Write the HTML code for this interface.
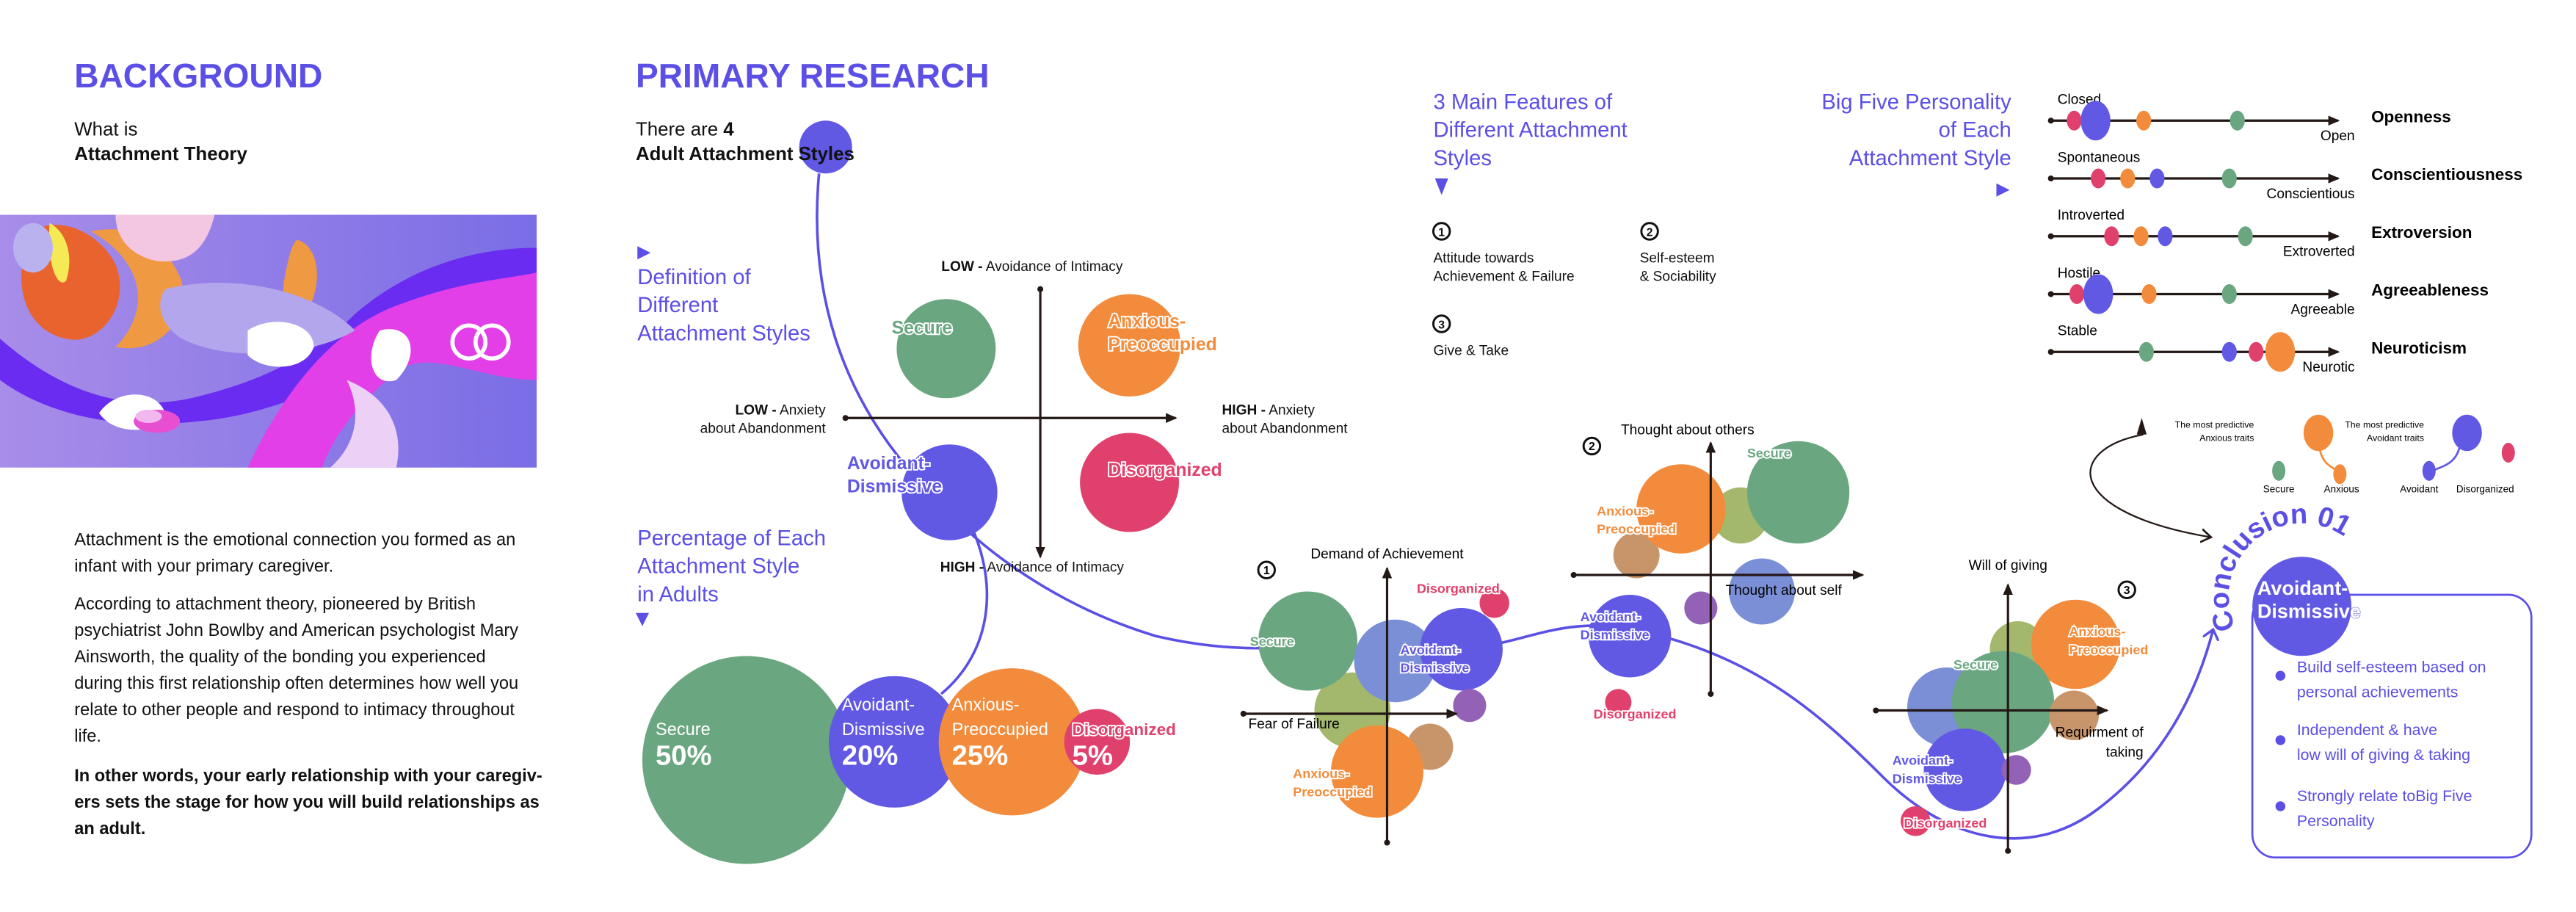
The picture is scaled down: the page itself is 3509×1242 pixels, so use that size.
<!DOCTYPE html>
<html><head><meta charset="utf-8"><style>
html,body{margin:0;padding:0;background:#fff;}
svg{display:block;}
text{font-family:"Liberation Sans",sans-serif;}
.h{font-weight:bold;fill:#5b4fe6;font-size:20.5px;}
.sub{font-size:11.5px;fill:#111;}
.pur{fill:#5b4fe6;font-size:13px;}
.body{font-size:10.5px;fill:#111;}
.ax{stroke:#231816;stroke-width:1.4;fill:none;}
.lab{font-size:8.5px;fill:#111;}
.ol{paint-order:stroke;stroke:#fff;stroke-width:1.6px;font-weight:bold;font-size:8px;}
</style></head><body>
<svg id="root" width="3509" height="1242" viewBox="0 0 1560 552" preserveAspectRatio="none">
<defs>
<linearGradient id="bg" x1="0" x2="1" y1="0" y2="0"><stop offset="0" stop-color="#a88de9"/><stop offset="1" stop-color="#7a6de6"/></linearGradient>
<marker id="arr" markerWidth="8" markerHeight="8" refX="6" refY="4" orient="auto" markerUnits="userSpaceOnUse"><path d="M0,1 L7,4 L0,7 z" fill="#231816"/></marker>
<marker id="arrP" markerWidth="10" markerHeight="10" refX="5" refY="5" orient="auto" markerUnits="userSpaceOnUse"><path d="M0,0 L6,5 L0,10" fill="none" stroke="#5b4fe6" stroke-width="1.5"/></marker>
<marker id="arrK" markerWidth="10" markerHeight="10" refX="5" refY="5" orient="auto" markerUnits="userSpaceOnUse"><path d="M0,1 L6,5 L0,9" fill="none" stroke="#231816" stroke-width="1.2"/></marker>
</defs>

<text x="45" y="53" class="h">BACKGROUND</text>
<text x="45" y="82" class="sub">What is</text>
<text x="45" y="97" class="sub" font-weight="bold">Attachment Theory</text>
<g>
<rect x="0" y="130" width="325" height="153" fill="url(#bg)"/>
<path d="M0,205 C40,240 80,250 120,240 C160,230 190,215 215,190 C250,160 290,150 325,150 L325,230 C300,225 280,200 260,205 C230,215 180,250 120,255 C60,262 20,245 0,230 Z" fill="#6a2cf0"/>
<path d="M150,283 C170,240 200,200 240,185 C280,170 300,170 325,165 L325,230 C290,230 260,210 240,225 C210,250 200,270 195,283 Z" fill="#e23fe8"/>
<path d="M20,140 C35,130 60,140 70,160 C80,185 60,210 40,205 C15,200 5,170 20,140 Z" fill="#e8632e"/>
<path d="M55,140 C80,135 100,145 110,170 C115,195 95,215 70,210 C90,190 90,160 55,140 Z" fill="#ef9a42"/>
<path d="M30,135 C40,140 45,155 40,170 C35,175 28,160 30,135 Z" fill="#f5e956"/>
<path d="M70,130 L130,130 C125,150 115,160 95,158 C80,155 70,145 70,130 Z" fill="#f3c6e2"/>
<path d="M180,145 C195,150 195,175 185,190 C175,200 170,185 172,170 C174,160 176,148 180,145 Z" fill="#ef9a42"/>
<path d="M100,175 C140,165 190,175 215,200 C190,215 140,220 110,205 C95,195 95,182 100,175 Z" fill="#b3a6ec"/>
<ellipse cx="20" cy="150" rx="12" ry="15" fill="#b9b2ef"/>
<path d="M150,200 C165,190 190,195 190,210 C185,225 160,225 150,215 Z" fill="#fff"/>
<path d="M60,250 C70,235 95,235 100,250 C98,262 70,265 60,250 Z" fill="#fff"/>
<path d="M210,230 C220,250 215,270 200,283 L240,283 C245,260 235,240 210,230 Z" fill="#ecd0f5"/>
<path d="M230,200 C250,195 255,215 240,230 C225,235 220,215 230,200 Z" fill="#fff"/>
<ellipse cx="95" cy="255" rx="14" ry="7" fill="#e84fd0"/>
<ellipse cx="90" cy="252" rx="8" ry="4" fill="#f0b8ee"/>
<circle cx="284" cy="207" r="10" fill="none" stroke="#fff" stroke-width="2.5"/>
<circle cx="298" cy="207" r="10" fill="none" stroke="#fff" stroke-width="2.5"/>
</g>
<g>
<text x="45" y="330" class="body">Attachment is the emotional connection you formed as an</text>
<text x="45" y="346" class="body">infant with your primary caregiver.</text>
<text x="45" y="369" class="body">According to attachment theory, pioneered by British</text>
<text x="45" y="385" class="body">psychiatrist John Bowlby and American psychologist Mary</text>
<text x="45" y="401" class="body">Ainsworth, the quality of the bonding you experienced</text>
<text x="45" y="417" class="body">during this first relationship often determines how well you</text>
<text x="45" y="433" class="body">relate to other people and respond to intimacy throughout</text>
<text x="45" y="449" class="body">life.</text>
<text x="45" y="473" class="body" font-weight="bold">In other words, your early relationship with your caregiv-</text>
<text x="45" y="489" class="body" font-weight="bold">ers sets the stage for how you will build relationships as</text>
<text x="45" y="505" class="body" font-weight="bold">an adult.</text>
</g>

<text x="385" y="53" class="h">PRIMARY RESEARCH</text>
<text x="385" y="82" class="sub">There are <tspan font-weight="bold">4</tspan></text>

<g fill="none" stroke="#5b4fe6" stroke-width="1.6">
<path d="M496,105 C490,170 505,240 565,300 C600,340 650,370 700,385 C730,392 755,393 775,392"/>
<path d="M588,318 C605,355 600,395 570,420"/>
<path d="M905,390 C930,385 950,375 985,380 C1060,395 1100,430 1140,470 C1180,510 1230,520 1270,490 C1310,460 1330,420 1340,382" marker-end="url(#arrP)"/>
</g>
<circle cx="500" cy="89" r="16" fill="#6158e3"/>
<text x="385" y="97" class="sub" font-weight="bold">Adult Attachment Styles</text>

<path d="M386,149 L394,153 L386,157 Z" fill="#5b4fe6"/>
<g>
<text x="386" y="172" class="pur">Definition of</text>
<text x="386" y="189" class="pur">Different</text>
<text x="386" y="206" class="pur">Attachment Styles</text></g>

<g>
<line x1="630" y1="175" x2="630" y2="337" class="ax" marker-end="url(#arr)"/>
<circle cx="630" cy="175" r="1.8" fill="#231816"/>
<line x1="512" y1="253" x2="712" y2="253" class="ax" marker-end="url(#arr)"/>
<circle cx="512" cy="253" r="1.8" fill="#231816"/>
<text x="625" y="164" class="lab" text-anchor="middle"><tspan font-weight="bold">LOW -</tspan> Avoidance of Intimacy</text>
<text x="625" y="346" class="lab" text-anchor="middle"><tspan font-weight="bold">HIGH -</tspan> Avoidance of Intimacy</text>
<text x="500" y="251" class="lab" text-anchor="end"><tspan font-weight="bold">LOW -</tspan> Anxiety</text>
<text x="500" y="262" class="lab" text-anchor="end">about Abandonment</text>
<text x="740" y="251" class="lab"><tspan font-weight="bold">HIGH -</tspan> Anxiety</text>
<text x="740" y="262" class="lab">about Abandonment</text>
<circle cx="573" cy="211" r="30" fill="#6aa781"/>
<circle cx="684" cy="209" r="31" fill="#f28c3c"/>
<circle cx="575" cy="298" r="29" fill="#6158e3"/>
<circle cx="684" cy="292" r="30" fill="#e0416c"/>
<text x="540" y="202" class="ol" fill="#6aa781" style="font-size:11px">Secure</text>
<text x="671" y="198" class="ol" fill="#f28c3c" style="font-size:11px">Anxious-</text>
<text x="671" y="212" class="ol" fill="#f28c3c" style="font-size:11px">Preoccupied</text>
<text x="513" y="284" class="ol" fill="#6158e3" style="font-size:11px">Avoidant-</text>
<text x="513" y="298" class="ol" fill="#6158e3" style="font-size:11px">Dismissive</text>
<text x="671" y="288" class="ol" fill="#e0416c" style="font-size:11px">Disorganized</text>
</g>

<g>
<text x="386" y="330" class="pur">Percentage of Each</text>
<text x="386" y="347" class="pur">Attachment Style</text>
<text x="386" y="364" class="pur">in Adults</text>
<path d="M385,371 L393,371 L389,379 Z" fill="#5b4fe6"/></g>
<g id="pct"></g>

<g>
<text x="868" y="66" class="pur">3 Main Features of</text>
<text x="868" y="83" class="pur">Different Attachment</text>
<text x="868" y="100" class="pur">Styles</text>
<path d="M869,108 L877,108 L873,118 Z" fill="#5b4fe6"/></g>
<g class="lab">
<circle cx="873" cy="140" r="5" fill="none" stroke="#111" stroke-width="1.3"/><text x="873" y="143" font-size="7" text-anchor="middle" font-weight="bold">1</text>
<text x="868" y="159">Attitude towards</text><text x="868" y="170">Achievement &amp; Failure</text>
<circle cx="999" cy="140" r="5" fill="none" stroke="#111" stroke-width="1.3"/><text x="999" y="143" font-size="7" text-anchor="middle" font-weight="bold">2</text>
<text x="993" y="159">Self-esteem</text><text x="993" y="170">&amp; Sociability</text>
<circle cx="873" cy="196" r="5" fill="none" stroke="#111" stroke-width="1.3"/><text x="873" y="199" font-size="7" text-anchor="middle" font-weight="bold">3</text>
<text x="868" y="215">Give &amp; Take</text>
</g>
<g>
<text x="1218" y="66" class="pur" text-anchor="end">Big Five Personality</text>
<text x="1218" y="83" class="pur" text-anchor="end">of Each</text>
<text x="1218" y="100" class="pur" text-anchor="end">Attachment Style</text>
<path d="M1209,111 L1217,115 L1209,119 Z" fill="#5b4fe6"/></g>
<g id="bigfive"></g>

<g id="f1"></g>
<g id="f2"></g>
<g id="f3"></g>

<g>
<path d="M1298,263 C1250,272 1250,310 1338,325" fill="none" stroke="#231816" stroke-width="1" marker-end="url(#arrK)"/>
<path d="M1294,263 L1297,253 L1300,263 Z" fill="#231816"/>
<text x="1365" y="259" font-size="5.5" text-anchor="end">The most predictive</text>
<text x="1365" y="267" font-size="5.5" text-anchor="end">Anxious traits</text>
<path d="M1404,268 C1406,282 1412,282 1417,286" stroke="#f28c3c" fill="none" stroke-width="1.2"/>
<ellipse cx="1404" cy="262" rx="9" ry="11" fill="#f28c3c"/>
<ellipse cx="1417" cy="287" rx="4" ry="6" fill="#f28c3c"/>
<text x="1468" y="259" font-size="5.5" text-anchor="end">The most predictive</text>
<text x="1468" y="267" font-size="5.5" text-anchor="end">Avoidant traits</text>
<path d="M1490,268 C1488,282 1478,282 1471,286" stroke="#6158e3" fill="none" stroke-width="1.2"/>
<ellipse cx="1494" cy="262" rx="9" ry="11" fill="#6158e3"/>
<ellipse cx="1471" cy="285" rx="4" ry="6" fill="#6158e3"/>
<ellipse cx="1380" cy="285" rx="4" ry="6" fill="#6aa781"/>
<ellipse cx="1519" cy="274" rx="4" ry="6" fill="#e0416c"/>
<text x="1380" y="298" font-size="6" text-anchor="middle">Secure</text>
<text x="1418" y="298" font-size="6" text-anchor="middle">Anxious</text>
<text x="1465" y="298" font-size="6" text-anchor="middle">Avoidant</text>
<text x="1505" y="298" font-size="6" text-anchor="middle">Disorganized</text>
</g>

<g>
<rect x="1364" y="360" width="169" height="159" rx="14" fill="none" stroke="#5b4fe6" stroke-width="1.2"/>
<path id="carc" d="M1354,380 A44,44 0 0 1 1434,342" fill="none"/>
<text font-size="17" font-weight="bold" fill="#5b4fe6"><textPath href="#carc">Conclusion 01</textPath></text>
<circle cx="1394" cy="367" r="30" fill="#6158e3"/>
<text x="1367" y="360" class="ol" fill="#fff" style="font-size:12px;stroke:#6158e3;stroke-width:0.5px">Avoidant-</text>
<text x="1367" y="374" class="ol" fill="#fff" style="font-size:12px;stroke:#6158e3;stroke-width:0.5px">Dismissive</text>
<g fill="#5b4fe6" font-size="9.5">
<circle cx="1381" cy="409" r="3"/><text x="1391" y="407">Build self-esteem based on</text><text x="1391" y="422">personal achievements</text>
<circle cx="1381" cy="448" r="3"/><text x="1391" y="445">Independent &amp; have</text><text x="1391" y="460">low will of giving &amp; taking</text>
<circle cx="1381" cy="488" r="3"/><text x="1391" y="485">Strongly relate toBig Five</text><text x="1391" y="500">Personality</text>
</g></g>
</svg>
<script>
var NS='http://www.w3.org/2000/svg';
var styles=['Secure','Avoidant-Dismissive','Anxious-Preoccupied','Disorganized'];
var pctValues=[50,20,25,5];
var pctLabels=['50%','20%','25%','5%'];
var colors={sec:'#6aa781',av:'#6158e3',anx:'#f28c3c',dis:'#e0416c',olive:'#a3b86c',blue:'#7b8fd6',tan:'#c8956a',vio:'#9361b6'};
function mk(tag,attrs,parent){var e=document.createElementNS(NS,tag);for(var k in attrs)e.setAttribute(k,attrs[k]);parent.appendChild(e);return e;}
(function(){
 var g=document.getElementById('pct');var pc=[colors.sec,colors.av,colors.anx,colors.dis];
 function rScale(v){return 8.9*Math.sqrt(v);}
 var x=389,prevR=0;
 for(var i=0;i<pctValues.length;i++){
  var r=rScale(pctValues[i]);
  x = i===0 ? 389+r : x+prevR+r-13;
  var cy=i===0?460:449;
  var c=mk('circle',{cx:x,cy:cy,r:r,fill:pc[i]},g);
  
  
  prevR=r;
  var parts=styles[i].split('-');
  var lx=x-r+8; if(i===3) lx=x-15;
  var ty=463;
  var lines=parts.length>1?[parts[0]+'-',parts[1]]:[parts[0]];
  for(var j=0;j<lines.length;j++){
   var t=mk('text',{x:lx,y:ty-18-(lines.length-1-j)*15,fill:i===3?colors.dis:'#fff','font-size':10.5},g);
   if(i===3){t.setAttribute('class','ol');t.setAttribute('style','font-size:10px');}
   t.textContent=lines[j];
  }
  var p=mk('text',{x:lx,y:ty,fill:'#fff','font-size':17,'font-weight':'bold'},g);
  p.textContent=pctLabels[i];
 }
})();
var traits=['Openness','Conscientiousness','Extroversion','Agreeableness','Neuroticism'];
var lowLabels=['Closed','Spontaneous','Introverted','Hostile','Stable'];
var highLabels=['Open','Conscientious','Extroverted','Agreeable','Neurotic'];
var secureScores=[66,63,69,63,32];
var avoidantScores=[13,36,39,14,63];
var anxiousScores=[31,25,30,33,82];
var disorganizedScores=[5,14,19,6,73];
var bigMarks=[['av'],[],[],['av'],['anx']];
(function(){
 var g=document.getElementById('bigfive');
 var x0=1248,x1=1410;function sx(v){return x0+v*(x1-x0)/100;}
 for(var i=0;i<traits.length;i++){
  var y=73+i*35;
  mk('line',{x1:1242,y1:y,x2:1416,y2:y,'class':'ax','marker-end':'url(#arr)'},g);
  mk('circle',{cx:1242,cy:y,r:1.8,fill:'#231816'},g);
  var t=mk('text',{x:1246,y:y-10,'font-size':8.5},g);t.textContent=lowLabels[i];
  t=mk('text',{x:1426,y:y+12,'font-size':8.5,'text-anchor':'end'},g);t.textContent=highLabels[i];
  t=mk('text',{x:1436,y:y+1,'font-size':10,'font-weight':'bold'},g);t.textContent=traits[i];
  var set=[['sec',secureScores[i]],['dis',disorganizedScores[i]],['anx',anxiousScores[i]],['av',avoidantScores[i]]];
  set.sort(function(a,b){return (bigMarks[i].indexOf(a[0])>=0)-(bigMarks[i].indexOf(b[0])>=0);});
  for(var k=0;k<set.length;k++){
   var big=bigMarks[i].indexOf(set[k][0])>=0;
   var c=mk('ellipse',{cx:sx(set[k][1]),cy:y,rx:big?9:4.5,ry:big?12:6,fill:colors[set[k][0]]},g);
   
   
  }
 }
})();
var f1Bubbles=[['olive',-21,-2,23],['sec',-48,-44,30],['blue',5,-32,25],['dis',65,-67,9],['av',45,-39,25],['vio',50,-5,10],['tan',26,20,14],['anx',-6,35,28]];
var f2Bubbles=[['tan',-45,-12,14],['olive',18,-36,17],['anx',-18,-40,27],['sec',53,-50,31],['blue',31,10,20],['av',-49,37,25],['vio',-6,20,10],['dis',-56,77,8]];
var f3Bubbles=[['olive',6,-37,17],['anx',41,-40,27],['blue',-37,-2,24],['sec',-3,-5,31],['tan',40,3,15],['av',-26,36,25],['vio',5,36,9],['dis',-56,67,9]];
function drawFeature(id,ox,oy,bubbles,opts){
 var g=document.getElementById(id);
 for(var i=0;i<bubbles.length;i++){var b=bubbles[i];
  var c=mk('circle',{cx:ox+b[1],cy:oy+b[2],r:b[3],fill:colors[b[0]]},g);
  
  
 }
 mk('line',{x1:ox,y1:oy+opts.vb,x2:ox,y2:oy-opts.vt,'class':'ax','marker-end':'url(#arr)'},g);
 mk('circle',{cx:ox,cy:oy+opts.vb,r:1.8,fill:'#231816'},g);
 mk('line',{x1:ox-opts.hl,y1:oy,x2:ox+opts.hr,y2:oy,'class':'ax','marker-end':'url(#arr)'},g);
 mk('circle',{cx:ox-opts.hl,cy:oy,r:1.8,fill:'#231816'},g);
 for(var j=0;j<opts.texts.length;j++){var T=opts.texts[j];
  var t=mk('text',{x:T[0],y:T[1],'font-size':T[4]||8.5,'text-anchor':T[3]||'start'},g);
  if(T[5]){t.setAttribute('class','ol');t.setAttribute('fill',colors[T[5]]);t.setAttribute('style','font-size:8px');}
  t.textContent=T[2];}
 var n=opts.num;mk('circle',{cx:n[0],cy:n[1],r:5,fill:'none',stroke:'#111','stroke-width':1.3},g);
 var tn=mk('text',{x:n[0],y:n[1]+2.5,'font-size':7,'font-weight':'bold','text-anchor':'middle'},g);tn.textContent=n[2];
}
drawFeature('f1',840,432,f1Bubbles,{vt:88,vb:78,hl:87,hr:42,num:[767,345,'1'],texts:[[840,338,'Demand of Achievement','middle'],[756,441,'Fear of Failure'],[757,391,'Secure','start',8,'sec'],[848,396,'Avoidant-','start',8,'av'],[848,407,'Dismissive','start',8,'av'],[858,359,'Disorganized','start',8,'dis'],[783,471,'Anxious-','start',8,'anx'],[783,482,'Preoccupied','start',8,'anx']]});
drawFeature('f2',1036,348,f2Bubbles,{vt:80,vb:72,hl:83,hr:92,num:[964,270,'2'],texts:[[1022,263,'Thought about others','middle'],[1045,360,'Thought about self'],[1058,277,'Secure','start',8,'sec'],[967,312,'Anxious-','start',8,'anx'],[967,323,'Preoccupied','start',8,'anx'],[957,376,'Avoidant-','start',8,'av'],[957,387,'Dismissive','start',8,'av'],[965,435,'Disorganized','start',8,'dis']]});
drawFeature('f3',1216,430,f3Bubbles,{vt:76,vb:85,hl:80,hr:60,num:[1288,357,'3'],texts:[[1216,345,'Will of giving','middle'],[1298,446,'Requirment of','end'],[1298,458,'taking','end'],[1183,405,'Secure','start',8,'sec'],[1253,385,'Anxious-','start',8,'anx'],[1253,396,'Preoccupied','start',8,'anx'],[1146,463,'Avoidant-','start',8,'av'],[1146,474,'Dismissive','start',8,'av'],[1153,501,'Disorganized','start',8,'dis']]});
</script>
</body></html>
